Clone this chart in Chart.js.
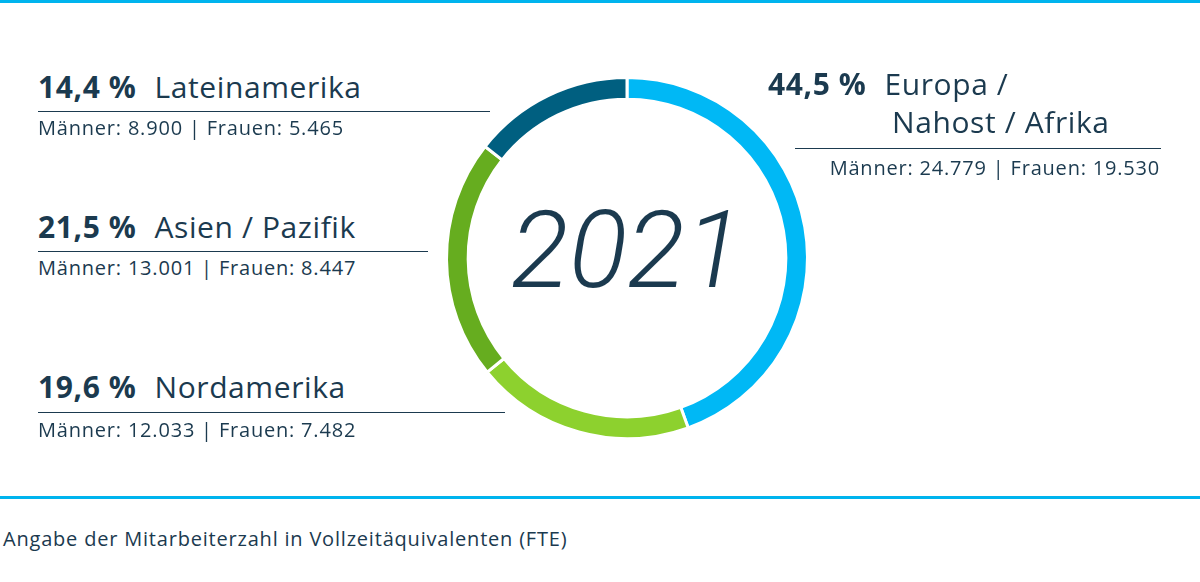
<!DOCTYPE html>
<html><head><meta charset="utf-8">
<script src="https://cdn.jsdelivr.net/npm/chart.js@4/dist/chart.umd.min.js"></script>
<style>
body{margin:0;width:1200px;height:582px;background:#fff;position:relative;overflow:hidden;font-family:"Open Sans",sans-serif;color:#1b3a4f}
.bar{position:absolute;left:0;width:1200px;height:3px;background:#00b4ee}
.t{position:absolute;font-size:30px;white-space:nowrap;line-height:1;letter-spacing:0.6px}
.t b{font-weight:bold;margin-right:18px}
.s{position:absolute;font-size:20px;white-space:nowrap;line-height:1;letter-spacing:0.8px}
.l{position:absolute;height:1px;background:#1b3a4f}
#wrap{position:absolute;left:441px;top:72px;width:372px;height:372px}
#yr{position:absolute;left:446px;top:196px;width:362px;text-align:center;font-family:Roboto,sans-serif;font-weight:300;font-style:italic;font-size:108px;color:#1b3a4f;line-height:1}
</style></head><body>
<div class="bar" style="top:0"></div>
<div class="bar" style="top:496px"></div>
<div id="wrap"><canvas id="c"></canvas></div>
<div id="yr">2021</div>
<div id="labels"></div>
<div class="s" style="left:3px;top:529px">Angabe der Mitarbeiterzahl in Vollzeitäquivalenten (FTE)</div>
<script>
const regions=["Europa / Nahost / Afrika","Nordamerika","Asien / Pazifik","Lateinamerika"];
const shares=[44.5,19.6,21.5,14.4];
const men=["24.779","12.033","13.001","8.900"];
const women=["19.530","7.482","8.447","5.465"];
const colors=["#00b8f5","#8dd12e","#66ad1f","#005f80"];
const L=document.getElementById('labels');
function add(html){L.insertAdjacentHTML('beforeend',html);}
const fmt=v=>v.toFixed(1).replace('.',',')+' %';
add(`<div class="t" style="left:38px;top:72px"><b>${fmt(shares[3])}</b>${regions[3]}</div><div class="l" style="left:38px;top:111px;width:452px"></div><div class="s" style="left:38px;top:118px">Männer: ${men[3]} | Frauen: ${women[3]}</div>`);
add(`<div class="t" style="left:38px;top:212px"><b>${fmt(shares[2])}</b>${regions[2]}</div><div class="l" style="left:38px;top:251px;width:390px"></div><div class="s" style="left:38px;top:258px">Männer: ${men[2]} | Frauen: ${women[2]}</div>`);
add(`<div class="t" style="left:38px;top:372px"><b>${fmt(shares[1])}</b>${regions[1]}</div><div class="l" style="left:38px;top:412px;width:467px"></div><div class="s" style="left:38px;top:420px">Männer: ${men[1]} | Frauen: ${women[1]}</div>`);
add(`<div class="t" style="left:768px;top:69px"><b>${fmt(shares[0])}</b>Europa /</div><div class="t" style="left:892px;top:107px">Nahost / Afrika</div><div class="l" style="left:795px;top:148px;width:366px"></div><div class="s" style="right:40px;top:158px">Männer: ${men[0]} | Frauen: ${women[0]}</div>`);
new Chart(document.getElementById('c'),{type:'doughnut',
data:{labels:regions,datasets:[{data:shares,backgroundColor:colors,borderColor:'#fff',borderWidth:3}]},
options:{responsive:true,maintainAspectRatio:false,animation:false,cutout:'88%',layout:{padding:4},
plugins:{legend:{display:false},tooltip:{enabled:false}}}});
</script></body></html>
